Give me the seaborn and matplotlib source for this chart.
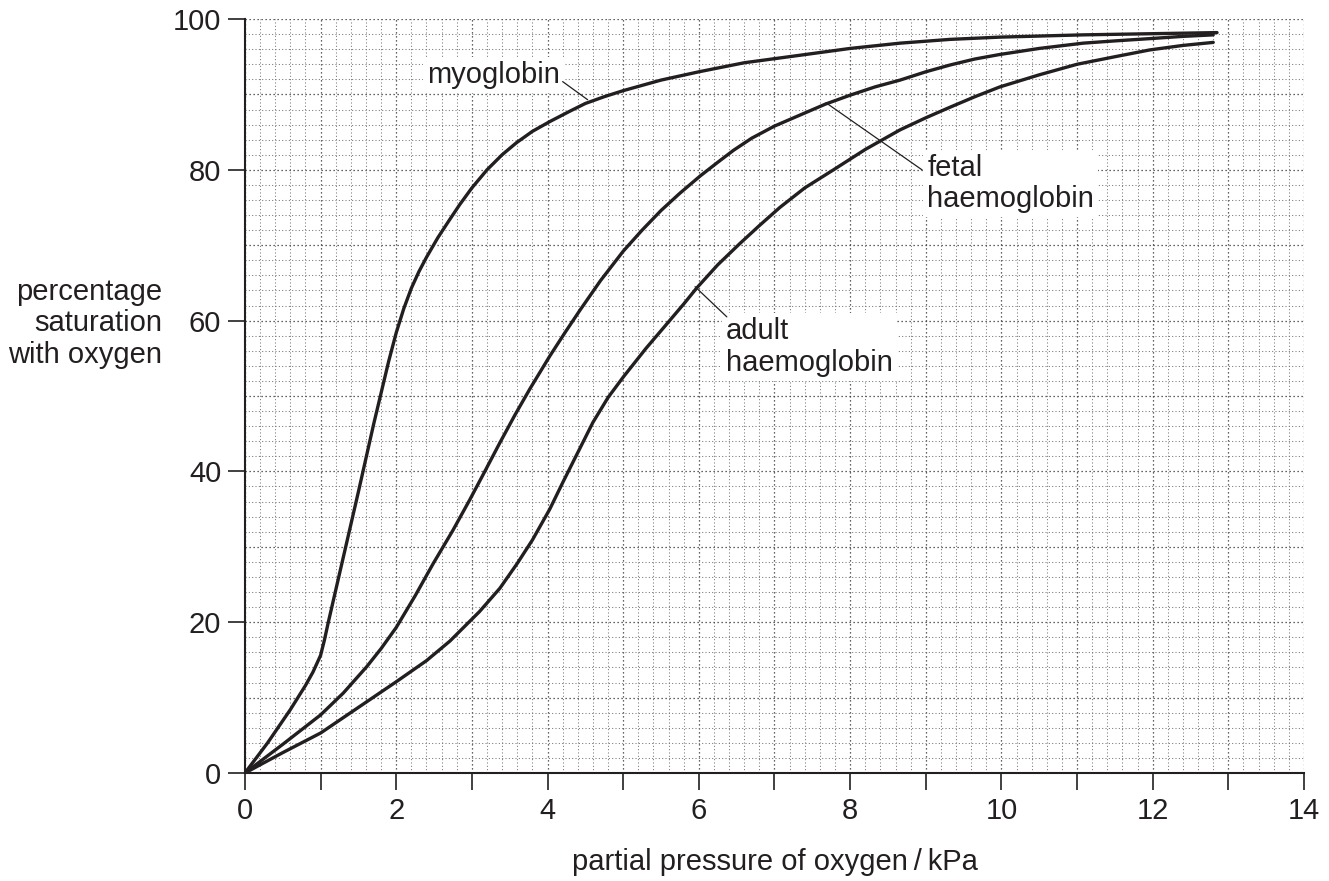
import numpy as np
import pandas as pd
import matplotlib
matplotlib.use('Agg')
import matplotlib.pyplot as plt
import seaborn as sns

# values (kPa, % saturation)
myo_x = [0, 0.3, 0.6, 0.8, 0.9, 1.0, 1.05, 1.1, 1.3, 1.5, 1.7, 1.9, 2.0, 2.1, 2.2, 2.3, 2.4,
         2.55, 2.7, 2.84, 3.0, 3.2, 3.4, 3.59, 3.8, 4.03, 4.3, 4.5, 4.75, 5.0, 5.5, 6.0, 6.6,
         7.34, 8.0, 8.66, 9.32, 9.98, 11.08, 12.85]
myo_y = [0, 4.0, 8.4, 11.6, 13.4, 15.6, 17.6, 19.9, 28.6, 37.3, 46.2, 54.6, 58.4, 61.6, 64.3,
         66.5, 68.4, 71.0, 73.3, 75.4, 77.6, 80.0, 82.0, 83.6, 85.1, 86.4, 87.8, 88.8, 89.7,
         90.5, 91.9, 93.0, 94.2, 95.2, 96.1, 96.8, 97.3, 97.6, 97.9, 98.2]

fetal_x = [0, 0.5, 1.0, 1.3, 1.61, 1.8, 2.0, 2.25, 2.49, 2.75, 2.97, 3.15, 3.37, 3.57, 3.77,
           4.03, 4.23, 4.43, 4.7, 5.0, 5.25, 5.5, 5.75, 6.02, 6.25, 6.46, 6.7, 7.0, 7.3, 7.67,
           8.0, 8.33, 8.66, 9.0, 9.32, 9.65, 9.98, 10.5, 11.08, 11.5, 11.96, 12.4, 12.8]
fetal_y = [0, 3.8, 7.7, 10.6, 14.1, 16.5, 19.3, 23.5, 27.8, 32.2, 36.2, 39.6, 43.8, 47.5, 51.0,
           55.3, 58.4, 61.4, 65.3, 69.2, 72.0, 74.6, 76.9, 79.2, 81.0, 82.6, 84.2, 85.8, 87.1, 88.7,
           89.9, 91.0, 91.9, 93.0, 93.9, 94.7, 95.3, 96.1, 96.8, 97.1, 97.4, 97.7, 97.9]

adult_x = [0, 0.5, 1.0, 1.5, 2.0, 2.4, 2.71, 2.84, 3.1, 3.37, 3.6, 3.8, 4.03, 4.2, 4.4, 4.6,
           4.8, 5.0, 5.3, 5.58, 5.8, 5.97, 6.25, 6.54, 6.8, 7.07, 7.4, 7.78, 8.2, 8.66, 9.0,
           9.32, 9.65, 9.98, 10.5, 11.0, 11.5, 11.96, 12.4, 12.8]
adult_y = [0, 2.7, 5.3, 8.7, 12.1, 14.9, 17.5, 18.8, 21.4, 24.5, 27.8, 30.9, 35.0, 38.5, 42.5, 46.5,
           49.8, 52.5, 56.3, 59.6, 62.2, 64.3, 67.4, 70.2, 72.6, 75.0, 77.6, 80.0, 82.7, 85.3, 86.9,
           88.3, 89.7, 91.0, 92.6, 94.0, 95.0, 95.9, 96.5, 96.9]

x_ticks = np.arange(0, 15, 1)
x_labels = [str(v) if v % 2 == 0 else '' for v in x_ticks]
y_ticks = [0, 20, 40, 60, 80, 100]

sns.set_style('white')
plt.rcParams['font.family'] = ['Liberation Sans', 'DejaVu Sans']
plt.rcParams['font.size'] = 21
ink = '#231f20'

fig = plt.figure(figsize=(13.29, 8.81), dpi=100)
ax = fig.add_axes([0.1843, 0.1226, 0.7969, 0.8558])

# graph paper grid
for v in np.arange(0, 14.01, 0.2):
    major = abs(v - round(v)) < 1e-6
    ax.axvline(v, color='#333333' if major else '#777777', lw=0.9 if major else 0.75,
               ls=(0, (1, 2.2)), zorder=0)
for v in np.arange(0, 100.01, 2):
    major = int(round(v)) % 10 == 0
    ax.axhline(v, color='#333333' if major else '#777777', lw=0.9 if major else 0.75,
               ls=(0, (1, 2.2)), zorder=0)

curves = [(myo_x, myo_y), (fetal_x, fetal_y), (adult_x, adult_y)]
for xs, ys in curves:
    df = pd.DataFrame({'x': xs, 'y': ys})
    sns.lineplot(data=df, x='x', y='y', ax=ax, color=ink, lw=2.4,
                 sort=False, estimator=None, zorder=3)

ax.set_xlim(0, 14)
ax.set_ylim(0, 100)
ax.set_xticks(x_ticks)
ax.set_xticklabels(x_labels)
ax.set_yticks(y_ticks)
ax.tick_params(axis='both', direction='out', length=12, width=1.2, color=ink,
               labelsize=21, labelcolor=ink, pad=5, bottom=True, left=True)
for s in ['top', 'right']:
    ax.spines[s].set_visible(False)
for s in ['left', 'bottom']:
    ax.spines[s].set_color(ink)
    ax.spines[s].set_linewidth(1.5)
    ax.spines[s].set_zorder(4)
ax.set_xlabel('')
ax.set_ylabel('')

# curve labels with white boxes and pointer lines
box = dict(facecolor='white', edgecolor='none', pad=3)
ax.text(2.41, 92.6, 'myoglobin', fontsize=21, color=ink, va='center', ha='left',
        bbox=box, zorder=5)
ax.plot([4.2, 4.53], [91.7, 89.3], color=ink, lw=0.9, zorder=5)

ax.text(9.02, 78.2, 'fetal\nhaemoglobin', fontsize=21, color=ink, va='center',
        ha='left', bbox=box, zorder=5, linespacing=1.15)
ax.plot([7.68, 8.95], [88.9, 80.0], color=ink, lw=0.9, zorder=5)

ax.text(6.36, 56.5, 'adult\nhaemoglobin', fontsize=21, color=ink, va='center',
        ha='left', bbox=box, zorder=5, linespacing=1.15)
ax.plot([5.95, 6.37], [64.5, 60.5], color=ink, lw=0.9, zorder=5)

fig.text(0.1219, 0.633, 'percentage\nsaturation\nwith oxygen', fontsize=21,
         color=ink, ha='right', va='center', linespacing=1.15)
fig.text(0.583, 0.0216, 'partial pressure of oxygen\u2009/\u2009kPa', fontsize=21,
         color=ink, ha='center', va='center')

fig.savefig('out.png', dpi=100)
